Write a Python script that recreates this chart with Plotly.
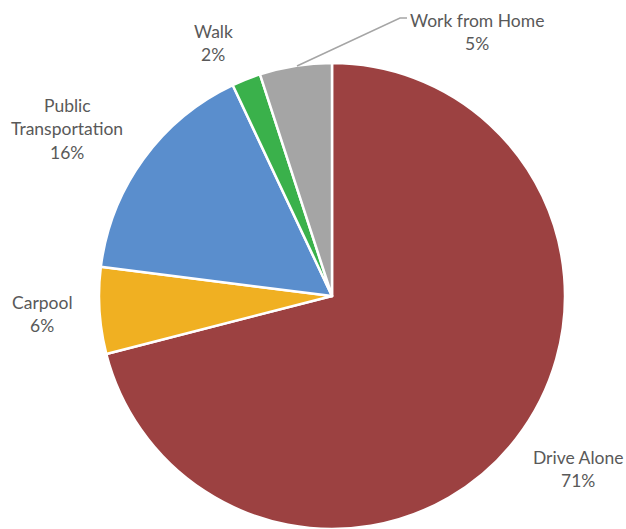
import plotly.graph_objects as go

W, H = 626, 529

categories = ["Drive Alone", "Carpool", "Public Transportation", "Walk", "Work from Home"]
values = [71, 6, 16, 2, 5]
colors = ["#9C4141", "#F0B022", "#5A8ECD", "#3AB14B", "#A5A5A5"]

# label text lines (name split across lines as in the reference)
label_lines = [["Drive Alone"], ["Carpool"], ["Public", "Transportation"], ["Walk"], ["Work from Home"]]
# label centre positions in pixels (x, y of first line)
label_pos = [(578, 457), (42, 302), (67, 105), (213, 31), (477, 20)]
LINE_H = 23.5

fig = go.Figure(go.Pie(
    labels=categories,
    values=values,
    sort=False,
    direction="clockwise",
    rotation=0,
    textinfo="none",
    hoverinfo="label+percent",
    marker=dict(colors=colors, line=dict(color="white", width=2.5)),
    domain=dict(x=[(332 - 233) / W, (332 + 233) / W], y=[0, 1 - 63 / H]),
    showlegend=False,
))

total = sum(values)
annotations = []
for lines, v, (px, py) in zip(label_lines, values, label_pos):
    all_lines = lines + [f"{round(100 * v / total)}%"]
    for i, t in enumerate(all_lines):
        annotations.append(dict(
            x=px / W, y=1 - (py + i * LINE_H) / H, xref="paper", yref="paper",
            text=t, showarrow=False, xanchor="center", yanchor="middle",
            font=dict(family="Lato", size=17.5, color="#595959"),
        ))

def P(x, y):
    return x / W, 1 - y / H

x0, y0 = P(297, 66)
x1, y1 = P(400, 18)
x2, y2 = P(407, 18)
fig.add_shape(type="path", xref="paper", yref="paper",
              path=f"M {x0},{y0} L {x1},{y1} L {x2},{y2}",
              line=dict(color="#A5A5A5", width=1.5))

fig.update_layout(
    width=W, height=H,
    margin=dict(l=0, r=0, t=0, b=0),
    paper_bgcolor="white", plot_bgcolor="white",
    annotations=annotations,
)

fig.write_html("out.html", config={"displayModeBar": False},
               post_script="document.body.style.margin='0';")
